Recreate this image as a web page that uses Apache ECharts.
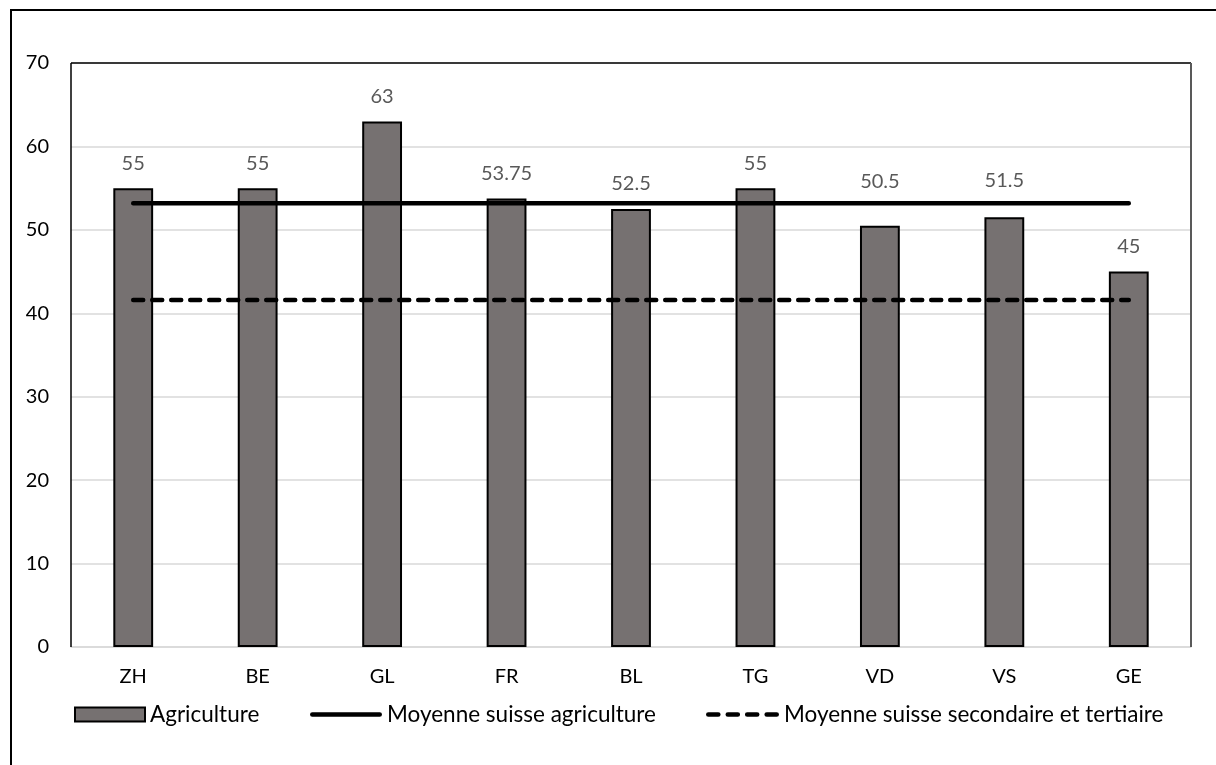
<!DOCTYPE html>
<html>
<head>
<meta charset="utf-8">
<script src="https://cdn.jsdelivr.net/npm/echarts@6/dist/echarts.min.js"></script>
<style>
  html, body { margin: 0; padding: 0; background: #fff; }
  #chart { width: 1216px; height: 765px; }
</style>
</head>
<body>
<div id="chart"></div>
<script>
// Cantons
const cantons = ['ZH', 'BE', 'GL', 'FR', 'BL', 'TG', 'VD', 'VS', 'GE'];
// Agriculture values per canton
const agriculture = [55, 55, 63, 53.75, 52.5, 55, 50.5, 51.5, 45];
// Swiss averages (horizontal reference lines)
const moyenneAgriculture = 53.2;
const moyenneSecTert = 41.6;
const yTicks = { min: 0, max: 70, interval: 10 };

// Labels nudged upward so they clear the average line
const labelLift = { VD: 19, VS: 12 };

const FONT = 'Lato';
const chart = echarts.init(document.getElementById('chart'), null, { renderer: 'canvas' });

const flat = v => cantons.map(() => v);
const barData = agriculture.map((v, i) => {
  const lift = labelLift[cantons[i]];
  return lift ? { value: v, label: { offset: [0, -lift] } } : v;
});

// Legend icons drawn as paths: a solid bar and four rounded dashes
const solidIcon = 'path://M2.25,0 L67.75,0 A2.25,2.25 0 0 1 67.75,4.5 L2.25,4.5 A2.25,2.25 0 0 1 2.25,0 Z';
const dashIcon = 'path://' + [0, 18.7, 37.3, 56].map(x =>
  `M${x + 2.25},0 L${x + 11.75},0 A2.25,2.25 0 0 1 ${x + 11.75},4.5 L${x + 2.25},4.5 A2.25,2.25 0 0 1 ${x + 2.25},0 Z`
).join(' ');

const legendText = { fontFamily: FONT, fontSize: 22.5, color: '#000' };

chart.setOption({
  backgroundColor: '#ffffff',
  animation: false,
  textStyle: { fontFamily: FONT },
  grid: { left: 71, right: 25, top: 63, bottom: 118 },
  graphic: [
    // outer frame
    { type: 'rect', shape: { x: 11, y: 10, width: 1400, height: 900 }, style: { fill: 'none', stroke: '#000', lineWidth: 2 }, silent: true, z: 100 },
    // plot frame: top and left black, right dark gray
    { type: 'line', shape: { x1: 71, y1: 63, x2: 1191, y2: 63 }, style: { stroke: '#000', lineWidth: 1.5 }, z: 100 },
    { type: 'line', shape: { x1: 71, y1: 63, x2: 71, y2: 647 }, style: { stroke: '#000', lineWidth: 1.5 }, z: 100 },
    { type: 'line', shape: { x1: 1191, y1: 63, x2: 1191, y2: 647 }, style: { stroke: '#595959', lineWidth: 2 }, z: 100 }
  ],
  legend: [
    {
      data: [{ name: 'Agriculture', icon: 'rect' }],
      left: 74, top: 703, padding: 0, itemWidth: 70, itemHeight: 14, itemGap: 0,
      textStyle: legendText,
      itemStyle: { borderColor: '#000', borderWidth: 2 }
    },
    {
      data: [{ name: 'Moyenne suisse agriculture', icon: solidIcon }],
      left: 310, top: 703, padding: 0, itemWidth: 72, itemHeight: 5, itemGap: 0,
      textStyle: legendText
    },
    {
      data: [{ name: 'Moyenne suisse secondaire et tertiaire', icon: dashIcon }],
      left: 706, top: 703, padding: 0, itemWidth: 73, itemHeight: 5, itemGap: 0,
      textStyle: legendText
    }
  ],
  xAxis: {
    type: 'category',
    data: cantons,
    boundaryGap: true,
    axisLine: { show: true, lineStyle: { color: '#d9d9d9', width: 1.5 } },
    axisTick: { show: false },
    axisLabel: { fontFamily: FONT, fontSize: 20, color: '#000', margin: 20 }
  },
  yAxis: {
    type: 'value',
    min: yTicks.min, max: yTicks.max, interval: yTicks.interval,
    axisLine: { show: false },
    axisTick: { show: false },
    splitLine: { show: true, lineStyle: { color: '#d9d9d9', width: 1.5 } },
    axisLabel: { fontFamily: FONT, fontSize: 20, color: '#000', margin: 22 }
  },
  series: [
    {
      name: 'Agriculture',
      type: 'bar',
      data: barData,
      barWidth: '32%',
      itemStyle: { color: '#767171', borderColor: '#000', borderWidth: 2 },
      label: {
        show: true, position: 'top', distance: 15,
        fontFamily: FONT, fontSize: 20, color: '#595959'
      },
      z: 2
    },
    {
      name: 'Moyenne suisse agriculture',
      type: 'line',
      data: flat(moyenneAgriculture),
      symbol: 'none',
      lineStyle: { color: '#000', width: 4.5, cap: 'round' },
      itemStyle: { color: '#000' },
      z: 5
    },
    {
      name: 'Moyenne suisse secondaire et tertiaire',
      type: 'line',
      data: flat(moyenneSecTert),
      symbol: 'none',
      lineStyle: { color: '#000', width: 4.5, type: [10, 9], cap: 'round' },
      itemStyle: { color: '#000' },
      z: 5
    }
  ]
});
</script>
</body>
</html>
